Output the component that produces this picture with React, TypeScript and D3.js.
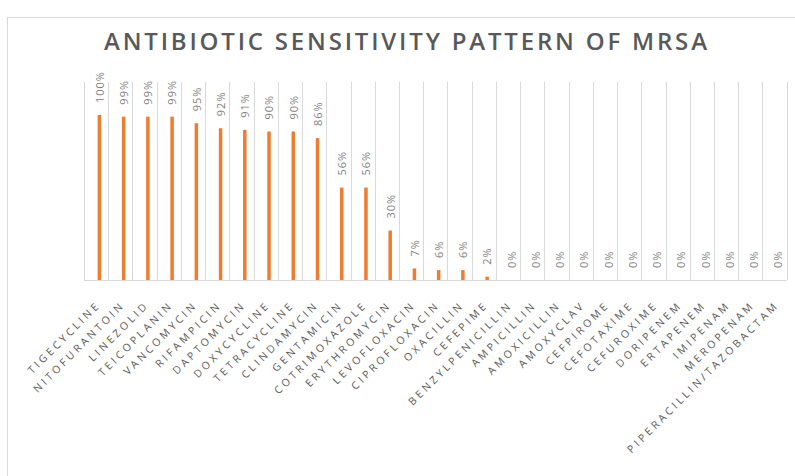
import React from "react";
import * as d3 from "d3";

const categories: string[] = [
  "TIGECYCLINE", "NITOFURANTOIN", "LINEZOLID", "TEICOPLANIN", "VANCOMYCIN",
  "RIFAMPICIN", "DAPTOMYCIN", "DOXYCYCLINE", "TETRACYCLINE", "CLINDAMYCIN",
  "GENTAMICIN", "COTRIMOXAZOLE", "ERYTHROMYCIN", "LEVOFLOXACIN", "CIPROFLOXACIN",
  "OXACILLIN", "CEFEPIME", "BENZYLPENICILLIN", "AMPICILLIN", "AMOXICILLIN",
  "AMOXYCLAV", "CEFPIROME", "CEFOTAXIME", "CEFUROXIME", "DORIPENEM",
  "ERTAPENEM", "IMIPENAM", "MEROPENAM", "PIPERACILLIN/TAZOBACTAM",
];
const sensitivity: number[] = [
  100, 99, 99, 99, 95, 92, 91, 90, 90, 86, 56, 56, 30, 7, 6, 6, 2,
  0, 0, 0, 0, 0, 0, 0, 0, 0, 0, 0, 0,
];
const title = "ANTIBIOTIC SENSITIVITY PATTERN OF MRSA";
const yDomainMax = 120;

const W = 795;
const H = 476;
const left = 84;
const right = 786.7;
const top = 82;
const bottom = 280;

export default function App() {
  const x = d3.scaleBand<string>().domain(categories).range([left, right]).padding(0);
  const y = d3.scaleLinear().domain([0, yDomainMax]).range([bottom, top]);
  const bw = x.bandwidth();
  const barW = 3.5;
  const barOffset = 3.3;
  const font = "'Open Sans', 'DejaVu Sans', sans-serif";
  const gridColor = "#d9d9d9";
  const textColor = "#595959";
  const edges = categories.map((c) => x(c) as number).concat([right]);

  return (
    <svg width={W} height={H} style={{ position: "absolute", left: 0, top: 0, background: "#fff" }}>
      <rect x={7.5} y={17.5} width={900} height={600} fill="#fff" stroke={gridColor} strokeWidth={1} />
      <text
        x={104}
        y={50}
        textLength={603}
        lengthAdjust="spacing"
        fontFamily={font}
        fontSize={24}
        fontWeight={600}
        fill={textColor}
      >
        {title}
      </text>
      {edges.map((e, i) => (
        <line key={"g" + i} x1={Math.round(e) + 0.5} x2={Math.round(e) + 0.5} y1={top} y2={bottom} stroke={gridColor} strokeWidth={1} />
      ))}
      <line x1={left} x2={right} y1={bottom + 0.5} y2={bottom + 0.5} stroke={gridColor} strokeWidth={1} />
      {categories.map((c, i) => {
        const cx = (x(c) as number) + bw / 2 + barOffset;
        const v = sensitivity[i];
        const yt = y(v);
        return (
          <g key={c}>
            <rect x={cx - barW / 2} y={yt} width={barW} height={bottom - yt} fill="#ED7D31" />
            <text
              transform={`translate(${cx + 0.5},${yt - 12}) rotate(-90)`}
              textAnchor="start"
              dy="0.35em"
              fontFamily={font}
              fontSize={11}
              letterSpacing={1}
              fill="#7f7f7f"
            >
              {v + "%"}
            </text>
          </g>
        );
      })}
      {categories.map((c) => {
        const cx = (x(c) as number) + bw / 2;
        return (
          <text
            key={"l" + c}
            transform={`translate(${cx + 2.5},${303}) rotate(-45)`}
            textAnchor="end"
            dy="0.35em"
            fontFamily={font}
            fontSize={10.5}
            letterSpacing={3.1}
            fill={textColor}
          >
            {c}
          </text>
        );
      })}
    </svg>
  );
}
